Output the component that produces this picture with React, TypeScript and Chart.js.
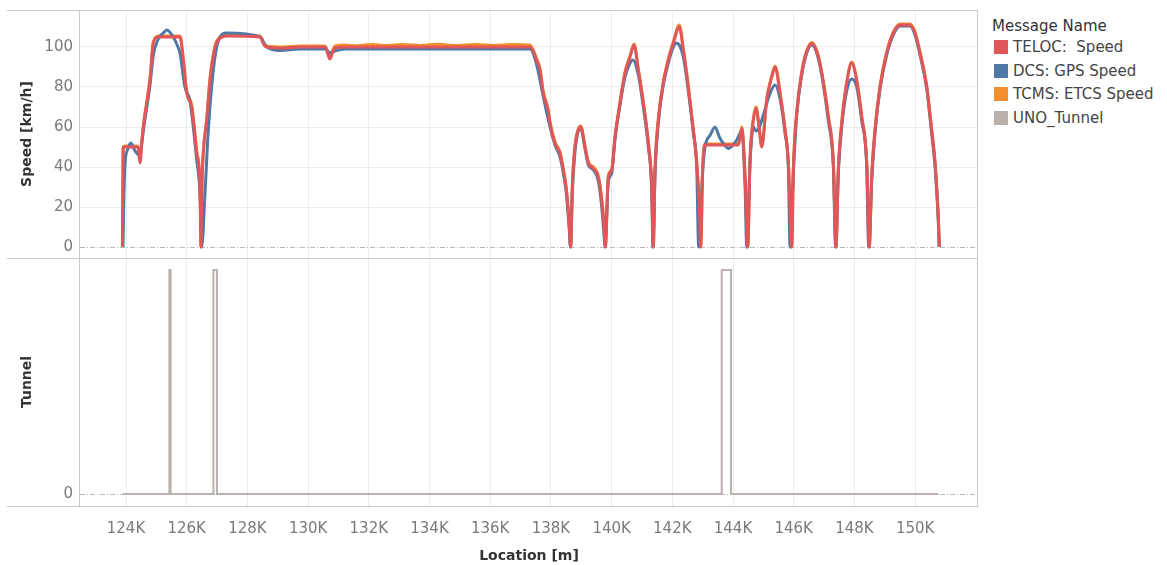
import React, { useEffect, useRef } from "react";
import { Chart, registerables } from "chart.js";

Chart.register(...registerables);

// ---------- data ----------
const X_TICKS = [124000, 126000, 128000, 130000, 132000, 134000, 136000, 138000, 140000, 142000, 144000, 146000, 148000, 150000];
const SPEED_TICKS = [0, 20, 40, 60, 80, 100];
const TUNNEL_TICKS = [0];

const SERIES_NAMES = ["TELOC:  Speed", "DCS: GPS Speed", "TCMS: ETCS Speed", "UNO_Tunnel"];
const SERIES_COLORS = ["#e15759", "#4e79a7", "#f28e2b", "#bab0ac"];

const telocLoc = [
  123880, 123895, 123905, 123960, 124395, 124461, 124520, 124570, 124791, 124900,
  125064, 125779, 125888, 126000, 126165, 126330, 126438, 126470, 126500, 126547,
  126659, 126768, 126933, 127097, 127318, 128415, 128550, 128636, 129200, 129733,
  130557, 130722, 130800, 130886, 131200, 137312, 137533, 137642, 137750, 137905,
  137971, 138136, 138300, 138409, 138521, 138607, 138653, 138706, 138795, 138903,
  138982, 139124, 139233, 139398, 139562, 139674, 139750, 139793, 139892, 140004,
  140113, 140277, 140442, 140607, 140739, 140880, 141045, 141210, 141322, 141374,
  141431, 141539, 141704, 141869, 142033, 142231, 142363, 142527, 142692, 142804,
  142890, 142936, 143002, 143078, 143408, 143846, 144176, 144288, 144397, 144486,
  144561, 144670, 144759, 144868, 144947, 145111, 145276, 145385, 145549, 145714,
  145823, 145935, 145988, 146100, 146264, 146429, 146594, 146759, 146923, 147141,
  147306, 147395, 147470, 147582, 147747, 147912, 148077, 148241, 148406, 148491,
  148570, 148679, 148844, 149064, 149282, 149503, 149832, 149997, 150161, 150383,
  150544, 150657, 150766, 150799,
];
const telocSpeed = [
  0, 30, 50, 50, 50, 42, 52, 60, 83.5, 102,
  105, 105, 93.5, 77, 70, 47, 30, 0, 30, 47,
  63.5, 83.5, 100, 104.3, 105.5, 105, 101, 100, 99.5, 100,
  100, 94, 97, 99.5, 100, 100, 93.5, 88.5, 76.8, 68.5,
  61.8, 51.8, 46.8, 38.5, 26.8, 10, 0, 30, 50, 58.5,
  60, 50, 42, 39.3, 35, 23.5, 10, 0, 35, 38.5,
  55, 72, 87, 95, 101, 88.5, 72, 51.8, 30, 0,
  38.5, 63.5, 82, 93.5, 102, 110, 98.5, 80, 58.5, 42,
  20, 0, 40, 51, 51, 51, 51, 59.3, 35, 0,
  43.5, 63.5, 69.3, 58.5, 50, 73.5, 85, 90, 76.8, 58.5,
  42, 0, 38.5, 67, 87, 97.7, 101.8, 97.7, 87, 65,
  42, 0, 38.5, 61.8, 82, 92, 83, 65, 42, 0,
  35, 58.5, 80, 97, 107, 111, 111, 107, 97, 80,
  58.5, 42, 13.5, 0,
];

const dcsLoc = [
  123900, 123930, 123970, 124060, 124155, 124300, 124430, 124520, 124570, 124791,
  124900, 125064, 125230, 125341, 125516, 125713, 125779, 125940, 126110, 126330,
  126438, 126494, 126603, 126712, 126877, 127041, 127318, 128415, 128636, 129074,
  129733, 130557, 130722, 130886, 131200, 137312, 137533, 137750, 137971, 138136,
  138300, 138409, 138521, 138607, 138640, 138706, 138795, 138903, 138982, 139124,
  139233, 139398, 139562, 139674, 139750, 139780, 139892, 140004, 140113, 140277,
  140442, 140607, 140700, 140880, 141045, 141210, 141322, 141360, 141431, 141539,
  141704, 141869, 142033, 142120, 142231, 142363, 142527, 142692, 142804, 142868,
  143002, 143078, 143250, 143408, 143550, 143681, 143846, 144123, 144288, 144397,
  144453, 144561, 144670, 144759, 144868, 145000, 145200, 145385, 145549, 145714,
  145823, 145880, 145988, 146100, 146264, 146429, 146594, 146759, 146923, 147141,
  147306, 147380, 147470, 147582, 147747, 147912, 148077, 148241, 148406, 148470,
  148570, 148679, 148844, 149064, 149282, 149503, 149832, 149997, 150161, 150383,
  150544, 150657, 150766, 150790,
];
const dcsSpeed = [
  0, 25, 42, 49, 52, 48, 46, 52, 58, 81,
  96, 104, 107, 108.5, 106, 100, 97, 80, 72.8, 43.5,
  26.8, 0, 27, 58.5, 88.5, 103, 107, 105, 100, 98.3,
  99, 99, 97, 98, 99, 99, 91, 75, 60, 51,
  45, 37, 25, 8, 0, 27, 48, 58, 59.5, 49,
  41, 38.5, 33, 20, 6, 0, 33, 37, 54, 71,
  85, 92, 93.5, 86, 70, 50, 28, 0, 37, 62,
  81, 92, 100, 102, 101, 95, 78, 57, 40, 0,
  38, 50, 56, 60, 55, 51.8, 49.3, 53.5, 58, 30,
  0, 42, 60, 58, 60, 66, 76, 81, 74, 57,
  40, 0, 37, 66, 86, 97, 101, 97, 86, 63,
  40, 0, 37, 60, 78, 84, 80, 63, 40, 0,
  33, 57, 79, 96, 106, 110.5, 110.5, 106, 96, 79,
  57, 40, 12, 0,
];

const tcmsLoc = [
  123885, 123900, 123910, 123960, 124395, 124461, 124520, 124570, 124791, 124900,
  125064, 125779, 125888, 126000, 126165, 126330, 126438, 126475, 126505, 126547,
  126659, 126768, 126933, 127097, 127318, 128415, 128550, 128636, 129200, 129733,
  130557, 130722, 130800, 130886, 131200, 131600, 132100, 132600, 133100, 133700,
  134300, 134900, 135500, 136100, 136700, 137312, 137533, 137642, 137750, 137905,
  137971, 138136, 138300, 138409, 138521, 138607, 138653, 138706, 138795, 138903,
  138982, 139124, 139233, 139398, 139562, 139674, 139750, 139793, 139892, 140004,
  140113, 140277, 140442, 140607, 140739, 140880, 141045, 141210, 141322, 141374,
  141431, 141539, 141704, 141869, 142033, 142231, 142363, 142527, 142692, 142804,
  142890, 142936, 143002, 143078, 143408, 143846, 144176, 144288, 144397, 144486,
  144561, 144670, 144759, 144868, 144947, 145111, 145276, 145385, 145549, 145714,
  145823, 145935, 145988, 146100, 146264, 146429, 146594, 146759, 146923, 147141,
  147306, 147395, 147470, 147582, 147747, 147912, 148077, 148241, 148406, 148491,
  148570, 148679, 148844, 149064, 149282, 149503, 149832, 149997, 150161, 150383,
  150544, 150657, 150766, 150799,
];
const tcmsSpeed = [
  0, 35, 50, 50.5, 50.5, 44, 53, 60.5, 84.5, 102.5,
  105.5, 105.5, 94, 78, 71, 48, 31, 0, 32, 48,
  64, 84.5, 100.5, 105, 106, 105.5, 101.5, 100.5, 100, 100.5,
  100.5, 95.5, 98, 100.5, 101, 100.6, 101.3, 100.7, 101.2, 100.8,
  101.4, 100.7, 101.2, 100.8, 101.3, 101, 94, 89, 77.5, 69,
  62.5, 52.5, 47.5, 39, 27.5, 11, 0, 31, 51, 59,
  60.5, 50.5, 42.5, 40, 35.5, 24, 11, 0, 35.5, 39,
  55.5, 72.5, 87.5, 95.5, 101.5, 89, 72.5, 52.5, 31, 0,
  39, 64, 82.5, 94, 102.5, 111, 99, 80.5, 59, 42.5,
  21, 0, 40.5, 51.5, 51.5, 51.5, 51.5, 60, 36, 0,
  44, 64, 70, 59, 50.5, 74, 85.5, 90.5, 77.5, 59,
  42.5, 0, 39, 67.5, 87.5, 98.2, 102.3, 98.2, 87.5, 65.5,
  42.5, 0, 39, 62.5, 82.5, 92.5, 83.5, 65.5, 42.5, 0,
  35.5, 59, 80.5, 97.5, 107.5, 111.5, 111.5, 107.5, 97.5, 80.5,
  59, 42.5, 14, 0,
];

const tunnelLoc = [
  123890, 125430, 125430, 125470, 125470, 126880, 126880, 126995, 126995,
  143628, 143628, 143934, 143934, 150770,
];
const tunnelVal = [0, 0, 1, 1, 0, 0, 1, 1, 0, 0, 1, 1, 0, 0];

// ---------- helpers ----------
const toPoints = (xs: number[], ys: number[]) => xs.map((x, i) => ({ x, y: ys[i] }));

const FONT = '"DejaVu Sans", sans-serif';
const TICK_COLOR = "#7a7a7a";
const TITLE_COLOR = "#333333";
const GRID_COLOR = "#ececec";
const FRAME_COLOR = "#c9c9c9";

const paneFrame = {
  id: "paneFrame",
  beforeDatasetsDraw(chart: any) {
    const { ctx, chartArea, scales } = chart;
    const ys = scales.y;
    const yt = scales.yT;
    ctx.save();
    // dotted zero reference lines
    ctx.strokeStyle = "#b9b9b9";
    ctx.lineWidth = 1;
    ctx.setLineDash([5, 2, 1, 2]);
    for (const s of [ys, yt]) {
      const py = Math.round(s.getPixelForValue(0)) + 0.5;
      ctx.beginPath();
      ctx.moveTo(chartArea.left, py);
      ctx.lineTo(chartArea.right, py);
      ctx.stroke();
    }
    ctx.setLineDash([]);
    ctx.strokeStyle = FRAME_COLOR;
    for (const yv of [chartArea.top, ys.bottom, chartArea.bottom]) {
      const py = Math.round(yv) + 0.5;
      ctx.beginPath();
      ctx.moveTo(7, py);
      ctx.lineTo(chartArea.right, py);
      ctx.stroke();
    }
    for (const xv of [chartArea.left, chartArea.right]) {
      const px = Math.round(xv) - 0.5;
      ctx.beginPath();
      ctx.moveTo(px, chartArea.top);
      ctx.lineTo(px, chartArea.bottom);
      ctx.stroke();
    }
    ctx.restore();
  },
};

const fitVertical = (s: any) => {
  s.width = 80;
  s.paddingTop = 0;
  s.paddingBottom = 0;
};

export default function App() {
  const canvasRef = useRef<HTMLCanvasElement | null>(null);

  useEffect(() => {
    if (!canvasRef.current) return;
    const speedDs = (i: number, xs: number[], ys: number[]) => ({
      label: SERIES_NAMES[i],
      data: toPoints(xs, ys),
      borderColor: SERIES_COLORS[i],
      backgroundColor: SERIES_COLORS[i],
      borderWidth: 3,
      pointRadius: 0,
      cubicInterpolationMode: "monotone" as const,
      yAxisID: "y",
      fill: false,
    });
    const chart = new Chart(canvasRef.current, {
      type: "line",
      data: {
        datasets: [
          speedDs(0, telocLoc, telocSpeed),
          speedDs(1, dcsLoc, dcsSpeed),
          speedDs(2, tcmsLoc, tcmsSpeed),
          {
            label: SERIES_NAMES[3],
            data: toPoints(tunnelLoc, tunnelVal),
            borderColor: SERIES_COLORS[3],
            backgroundColor: SERIES_COLORS[3],
            borderWidth: 2,
            pointRadius: 0,
            tension: 0,
            yAxisID: "yT",
            fill: false,
          },
        ],
      },
      options: {
        responsive: false,
        maintainAspectRatio: false,
        animation: false,
        devicePixelRatio: 1,
        layout: { padding: { top: 10, right: 2, left: 0, bottom: 0 } },
        plugins: { legend: { display: false }, tooltip: { enabled: false } },
        scales: {
          x: {
            type: "linear",
            min: 122484,
            max: 152072,
            afterBuildTicks: (s: any) => {
              s.ticks = X_TICKS.map((v) => ({ value: v }));
            },
            afterFit: (s: any) => {
              s.height = 59;
              s.paddingLeft = 0;
              s.paddingRight = 0;
            },
            ticks: {
              autoSkip: false,
              maxRotation: 0,
              padding: 14,
              color: TICK_COLOR,
              font: { family: FONT, size: 15 },
              callback: (v: any) => `${Number(v) / 1000}K`,
            },
            grid: { color: GRID_COLOR, drawTicks: false },
            border: { display: false },
            title: {
              display: true,
              text: "Location [m]",
              color: TITLE_COLOR,
              font: { family: FONT, size: 14, weight: "bold" },
              padding: { top: 0, bottom: 0 },
            },
          },
          y: {
            type: "linear",
            position: "left",
            stack: "panes",
            stackWeight: 1,
            weight: 1,
            min: -5.5,
            max: 118.5,
            afterBuildTicks: (s: any) => {
              s.ticks = SPEED_TICKS.map((v) => ({ value: v }));
            },
            afterFit: fitVertical,
            ticks: {
              padding: 7,
              color: TICK_COLOR,
              font: { family: FONT, size: 15 },
              callback: (v: any) => String(v),
            },
            grid: {
              drawTicks: false,
              color: (c: any) => (c.tick && c.tick.value === 0 ? "rgba(0,0,0,0)" : GRID_COLOR),
            },
            border: { display: false },
            title: {
              display: true,
              text: "Speed [km/h]",
              color: TITLE_COLOR,
              font: { family: FONT, size: 14, weight: "bold" },
              padding: { top: 19, bottom: 0 },
            },
          },
          yT: {
            type: "linear",
            position: "left",
            stack: "panes",
            stackWeight: 1,
            weight: 0,
            min: -0.054,
            max: 1.054,
            afterBuildTicks: (s: any) => {
              s.ticks = TUNNEL_TICKS.map((v) => ({ value: v }));
            },
            afterFit: fitVertical,
            ticks: {
              padding: 7,
              color: TICK_COLOR,
              font: { family: FONT, size: 15 },
              callback: (v: any) => String(v),
            },
            grid: { display: false, drawTicks: false },
            border: { display: false },
            title: {
              display: true,
              text: "Tunnel",
              color: TITLE_COLOR,
              font: { family: FONT, size: 14, weight: "bold" },
              padding: { top: 19, bottom: 0 },
            },
          },
        },
      },
      plugins: [paneFrame],
    } as any);
    return () => chart.destroy();
  }, []);

  const rowCenters = [46.5, 70.5, 94, 117.5];

  return (
    <div style={{ position: "fixed", left: 0, top: 0, width: 1167, height: 565, background: "#fff", overflow: "hidden" }}>
      <canvas ref={canvasRef} width={980} height={565} style={{ position: "absolute", left: 0, top: 0, width: 980, height: 565 }} />
      <div
        style={{
          position: "absolute",
          left: 992,
          top: 17,
          height: 18,
          lineHeight: "18px",
          fontFamily: FONT,
          fontSize: 15,
          color: "#333",
          whiteSpace: "pre",
        }}
      >
        Message Name
      </div>
      {SERIES_NAMES.map((name, i) => (
        <div
          key={name}
          style={{
            position: "absolute",
            left: 994,
            top: rowCenters[i] - 9,
            height: 18,
            display: "flex",
            alignItems: "center",
            fontFamily: FONT,
            fontSize: 15,
            color: "#444",
            whiteSpace: "pre",
          }}
        >
          <span style={{ display: "inline-block", width: 14, height: 14, background: SERIES_COLORS[i], marginRight: 5 }} />
          <span style={{ lineHeight: "18px" }}>{name}</span>
        </div>
      ))}
    </div>
  );
}
